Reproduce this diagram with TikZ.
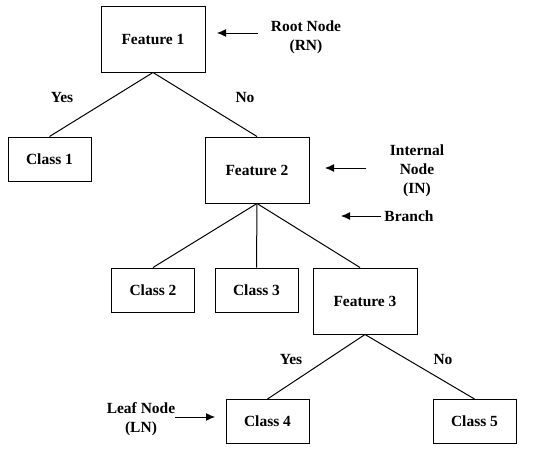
\documentclass[tikz,border=0pt]{standalone}
\usepackage{fontspec}
\setmainfont{Liberation Serif}
\usetikzlibrary{arrows.meta, positioning}

\begin{document}
\begin{tikzpicture}[
    x=1pt, y=-1pt,
    % Global Styles
    font=\bfseries\fontsize{15.5}{19}\selectfont,
    line width=1pt,
    % Node Styles
    featurebox/.style={
        rectangle,
        draw,
        minimum width=104pt,
        minimum height=66pt,
        inner sep=0pt
    },
    classbox/.style={
        rectangle,
        draw,
        minimum width=83pt,
        minimum height=44pt,
        inner sep=0pt
    },
    annot/.style={
        align=center,
        inner sep=0pt
    },
    pointer/.style={
        -{Latex[length=9pt,width=8pt]}
    }
]
    \useasboundingbox (0,0) rectangle (550,450);

    % --- Tree Nodes ---
    \node[featurebox] (f1) at (153,39) {Feature 1};
    \node[classbox] (c1) at (49.5,159) {Class 1};
    \node[featurebox] (f2) at (257,170) {Feature 2};
    \node[classbox] (c2) at (153,290) {Class 2};
    \node[classbox] (c3) at (256.5,290) {Class 3};
    \node[featurebox] (f3) at (365,301) {Feature 3};
    \node[classbox] (c4) at (267.5,421.5) {Class 4};
    \node[classbox] (c5) at (474.5,421.5) {Class 5};

    % --- Branches ---
    \draw (f1.south) -- (c1.north);
    \draw (f1.south) -- (f2.north);
    \draw (f2.south) -- (c2.north);
    \draw (f2.south) -- (c3.north);
    \draw (f2.south) -- ([xshift=-5pt]f3.north);
    \draw (f3.south) -- (c4.north);
    \draw (f3.south) -- (c5.north);

    % --- Branch Labels ---
    \node (yes1) at (62,97) {Yes};
    \node (no1) at (245,97) {No};
    \node (yes3) at (291,359) {Yes};
    \node (no3) at (443,359) {No};

    % --- Annotations ---
    \node[annot] (rn) at (306,37) {Root Node\\(RN)};
    \coordinate (rnTail) at (258,33);
    \coordinate (rnHead) at (217,33);
    \draw[pointer] (rnTail) -- (rnHead);

    \node[annot] (in) at (417,171) {Internal\\Node\\(IN)};
    \coordinate (inTail) at (366,168);
    \coordinate (inHead) at (325,168);
    \draw[pointer] (inTail) -- (inHead);

    \node[annot] (br) at (409,216) {Branch};
    \coordinate (brTail) at (381,216);
    \coordinate (brHead) at (341,216);
    \draw[pointer] (brTail) -- (brHead);

    \node[annot] (ln) at (141,419) {Leaf Node\\(LN)};
    \coordinate (lnTail) at (175,417);
    \coordinate (lnHead) at (215,417);
    \draw[pointer] (lnTail) -- (lnHead);

\end{tikzpicture}
\end{document}
